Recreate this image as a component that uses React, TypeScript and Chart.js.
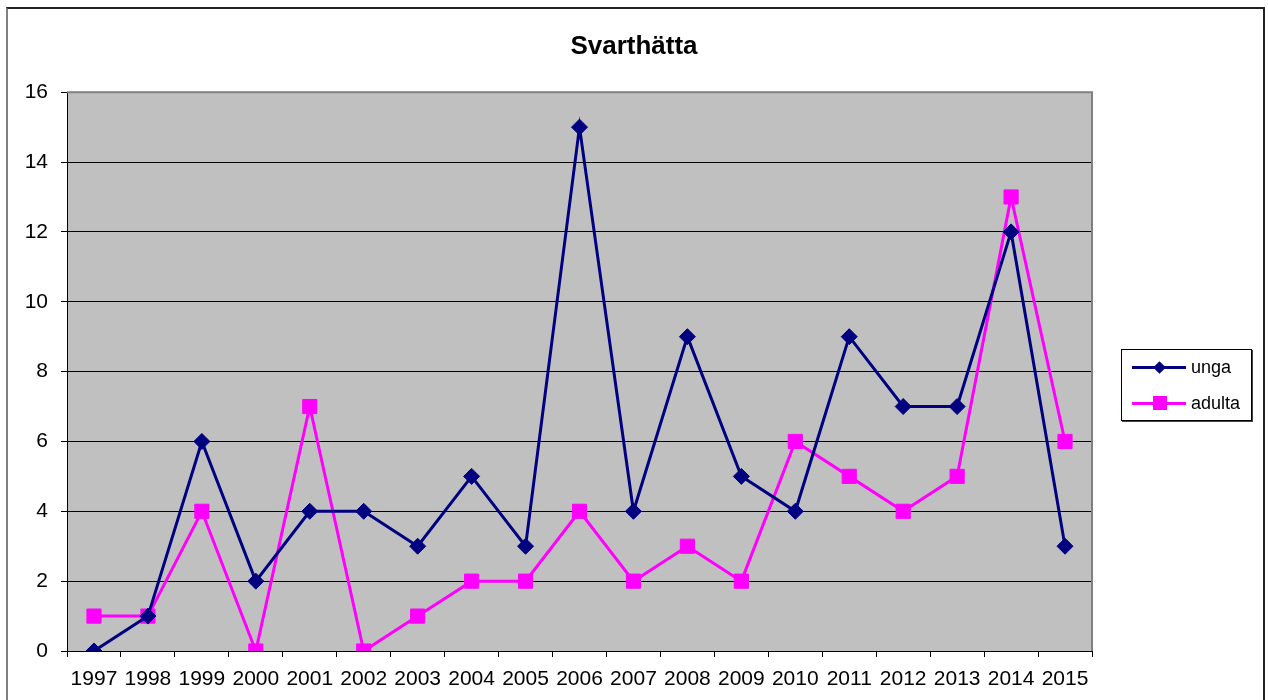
import React, { useEffect, useRef } from "react";
import { Chart, registerables } from "chart.js";

Chart.register(...registerables);

const years = ["1997","1998","1999","2000","2001","2002","2003","2004","2005","2006","2007","2008","2009","2010","2011","2012","2013","2014","2015"];
const unga = [0, 1, 6, 2, 4, 4, 3, 5, 3, 15, 4, 9, 5, 4, 9, 7, 7, 12, 3];
const adulta = [1, 1, 4, 0, 7, 0, 1, 2, 2, 4, 2, 3, 2, 6, 5, 4, 5, 13, 6];
const yTicks = [0, 2, 4, 6, 8, 10, 12, 14, 16];
const titleText = "Svarthätta";
const seriesNames = ["unga", "adulta"];

const NAVY = "#000080";
const MAGENTA = "#FF00FF";
const FONT = "'Liberation Sans', Arial, sans-serif";

const plotBg = {
  id: "plotBg",
  beforeDraw(chart: any) {
    const { ctx, chartArea } = chart;
    ctx.save();
    ctx.fillStyle = "#C0C0C0";
    ctx.fillRect(chartArea.left, chartArea.top, chartArea.right - chartArea.left, chartArea.bottom - chartArea.top);
    ctx.restore();
  },
  beforeDatasetsDraw(chart: any) {
    const { ctx, chartArea } = chart;
    ctx.save();
    ctx.strokeStyle = "#808080";
    ctx.lineWidth = 2;
    ctx.beginPath();
    ctx.moveTo(chartArea.left, chartArea.top);
    ctx.lineTo(chartArea.right, chartArea.top);
    ctx.lineTo(chartArea.right, chartArea.bottom);
    ctx.stroke();
    ctx.restore();
  },
};

export default function App() {
  const ref = useRef<HTMLCanvasElement>(null);
  useEffect(() => {
    if (!ref.current) return;
    Chart.defaults.font.family = FONT;
    const chart = new Chart(ref.current, {
      type: "line",
      data: {
        labels: years,
        datasets: [
          {
            label: seriesNames[0],
            data: unga,
            borderColor: NAVY,
            backgroundColor: NAVY,
            borderWidth: 3,
            pointStyle: "rectRot",
            pointRadius: 8,
            pointBorderWidth: 1,
            pointBorderColor: NAVY,
            pointBackgroundColor: NAVY,
            tension: 0,
          },
          {
            label: seriesNames[1],
            data: adulta,
            borderColor: MAGENTA,
            backgroundColor: MAGENTA,
            borderWidth: 3,
            pointStyle: "rect",
            pointRadius: 10,
            pointBorderWidth: 1,
            pointBorderColor: MAGENTA,
            pointBackgroundColor: MAGENTA,
            tension: 0,
          },
        ],
      },
      options: {
        responsive: false,
        animation: false,
        layout: { padding: { left: 0, right: 0, top: 0, bottom: 0 } },
        plugins: {
          legend: { display: false },
          tooltip: { enabled: false },
          title: {
            display: true,
            text: titleText,
            color: "#000",
            font: { size: 26, weight: "bold", family: FONT, lineHeight: 1.2 },
            padding: { top: 31, bottom: 30 },
          },
        },
        scales: {
          x: {
            offset: true,
            grid: { offset: true, drawOnChartArea: false, color: "#000", tickLength: 6, tickWidth: 1 },
            border: { color: "#000", width: 1 },
            ticks: { color: "#000", font: { size: 21, family: FONT }, autoSkip: false, maxRotation: 0, padding: 10 },
            afterFit(scale: any) { scale.height = 49; },
          },
          y: {
            min: 0,
            max: 16,
            afterBuildTicks(scale: any) { scale.ticks = yTicks.map((v) => ({ value: v })); },
            grid: { color: "#000", lineWidth: 1, tickLength: 6 },
            border: { color: "#000", width: 1 },
            ticks: { color: "#000", font: { size: 21, family: FONT }, padding: 13 },
            afterFit(scale: any) { scale.width = 67; },
          },
          yRight: {
            position: "right",
            min: 0,
            max: 16,
            grid: { display: false, drawOnChartArea: false },
            border: { display: false },
            ticks: { display: false },
            afterFit(scale: any) { scale.width = 176; },
          },
        },
      },
      plugins: [plotBg],
    });
    return () => chart.destroy();
  }, []);

  const legendRow = (top: number, color: string, marker: "diamond" | "square", text: string) => (
    <div style={{ position: "absolute", left: 0, top, width: 130, height: 20 }}>
      <div style={{ position: "absolute", left: 10, top: 9, width: 54, height: 3, background: color }} />
      {marker === "diamond" ? (
        <div style={{ position: "absolute", left: 33, top: 6, width: 9, height: 9, background: color, transform: "rotate(45deg)" }} />
      ) : (
        <div style={{ position: "absolute", left: 31, top: 3, width: 14, height: 14, background: color }} />
      )}
      <div style={{ position: "absolute", left: 69, top: 0, height: 20, lineHeight: "20px", fontSize: 18, fontFamily: FONT, color: "#000" }}>{text}</div>
    </div>
  );

  return (
    <div style={{ position: "fixed", left: 0, top: 0, width: 1268, height: 700, background: "#fff", overflow: "hidden" }}>
      <canvas ref={ref} width={1268} height={700} style={{ position: "absolute", left: 0, top: 0, width: 1268, height: 700 }} />
      <div style={{ position: "absolute", left: 6, top: 7, width: 1259, height: 720, borderTop: "2px solid #222", borderRight: "2px solid #222", borderLeft: "2px solid #808080", boxSizing: "border-box", pointerEvents: "none" }} />
      <div style={{ position: "absolute", left: 1121, top: 349, width: 131, height: 72, border: "1px solid #000", boxShadow: "1px 1px 0 #444", boxSizing: "border-box", background: "#fff" }}>
        {legendRow(7, NAVY, "diamond", seriesNames[0])}
        {legendRow(43, MAGENTA, "square", seriesNames[1])}
      </div>
    </div>
  );
}
